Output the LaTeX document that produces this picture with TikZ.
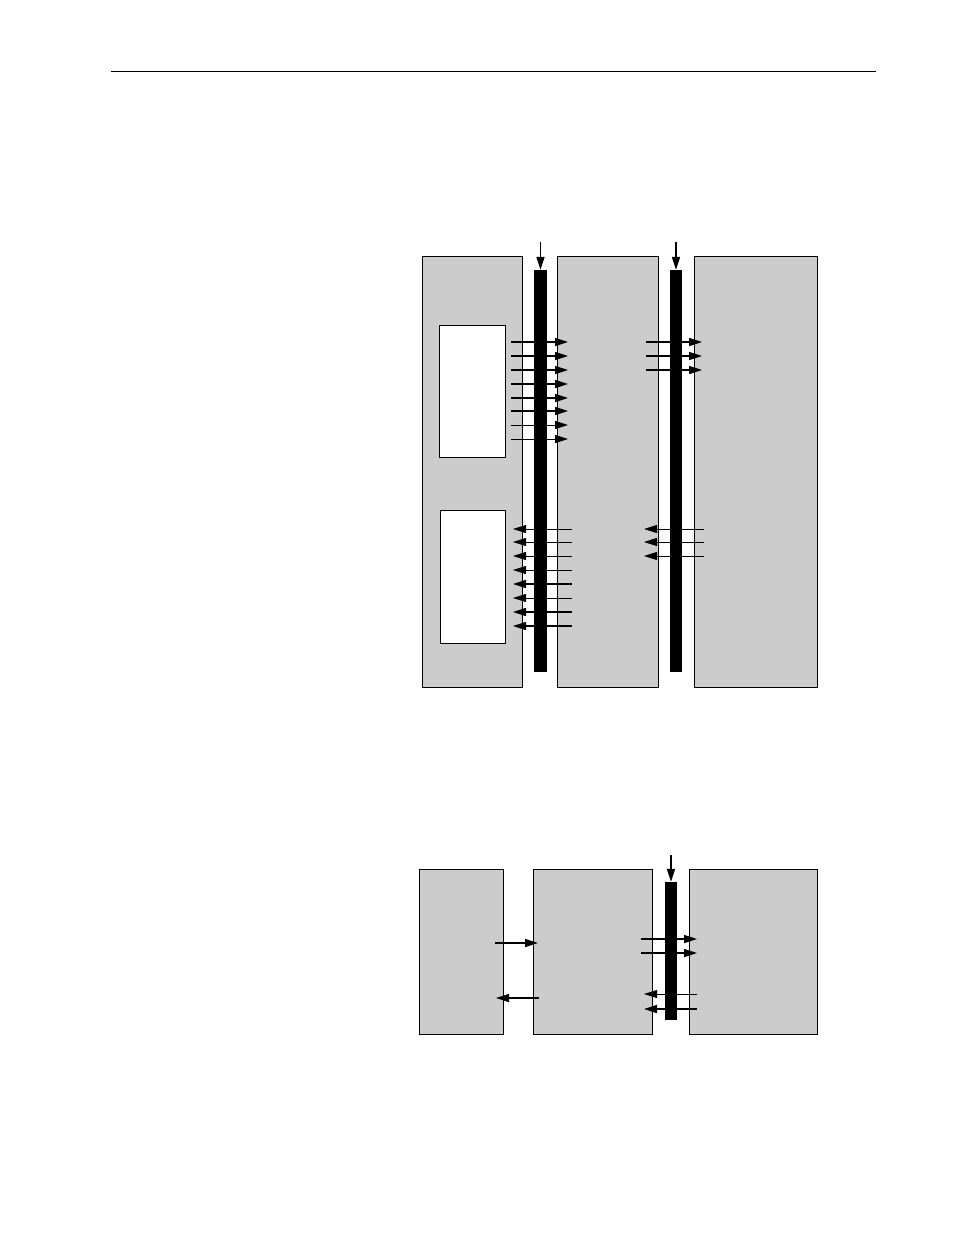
\documentclass[tikz,border=0pt]{standalone}
\usetikzlibrary{arrows.meta}
\begin{document}
\begin{tikzpicture}[x=1pt,y=-1pt,
        blk/.style={draw,fill=black!20,line width=0.8pt,inner sep=0pt},
        win/.style={draw,fill=white,line width=0.8pt,inner sep=0pt},
        bus/.style={fill=black,inner sep=0pt},
        sig/.style={-{Triangle[length=13pt,width=8pt]},line width=1.6pt},
        wire/.style={-{Triangle[length=13pt,width=8pt]},line width=0.8pt}]
            \useasboundingbox (0,0) rectangle (954,1235);
            \draw[line width=0.8pt] (111,71) -- (876,71);
            % upper picture
            \node[blk,minimum width=100pt,minimum height=431pt] (a) at (472,471.5) {};
            \node[blk,minimum width=101pt,minimum height=431pt] (b) at (607.5,471.5) {};
            \node[blk,minimum width=123pt,minimum height=431pt] (c) at (755.5,471.5) {};
            \node[win,minimum width=66pt,minimum height=132pt] (in1) at (472,391) {};
            \node[win,minimum width=65pt,minimum height=133pt] (in2) at (472.5,576.5) {};
            \node[bus,minimum width=13pt,minimum height=402pt] (bus1) at (540.5,471) {};
            \node[bus,minimum width=12pt,minimum height=402pt] (bus2) at (676,471) {};
            \coordinate (clk1) at (540.5,242);
            \coordinate (clk2) at (676,242);
            \draw[sig] (clk1) -- (bus1.north);
            \draw[sig] (clk2) -- (bus2.north);
            \draw[sig] (511,342) -- (568,342);
            \draw[sig] (511,356) -- (568,356);
            \draw[sig] (511,370) -- (568,370);
            \draw[sig] (511,384) -- (568,384);
            \draw[sig] (511,398) -- (568,398);
            \draw[sig] (511,411) -- (568,411);
            \draw[wire] (511,425) -- (568,425);
            \draw[wire] (511,439) -- (568,439);
            \draw[sig] (646,342) -- (702,342);
            \draw[sig] (646,356) -- (702,356);
            \draw[sig] (646,370) -- (702,370);
            \draw[wire] (572,529) -- (513,529);
            \draw[wire] (572,542) -- (513,542);
            \draw[wire] (572,556) -- (513,556);
            \draw[wire] (572,570) -- (513,570);
            \draw[sig] (572,584) -- (513,584);
            \draw[wire] (572,598) -- (513,598);
            \draw[sig] (572,612) -- (513,612);
            \draw[sig] (572,626) -- (513,626);
            \draw[wire] (704,529) -- (644,529);
            \draw[wire] (704,542) -- (644,542);
            \draw[wire] (704,556) -- (644,556);
            % lower picture
            \node[blk,minimum width=84pt,minimum height=165pt] (d) at (461.5,951.5) {};
            \node[blk,minimum width=119pt,minimum height=165pt] (e) at (593,951.5) {};
            \node[blk,minimum width=128pt,minimum height=165pt] (f) at (753.5,951.5) {};
            \node[bus,minimum width=12pt,minimum height=138pt] (bus3) at (671,951) {};
            \coordinate (clk3) at (671,855);
            \draw[sig] (clk3) -- (bus3.north);
            \draw[sig] (495,943) -- (538,943);
            \draw[sig] (539,998) -- (496,998);
            \draw[sig] (641,939) -- (697,939);
            \draw[sig] (641,953) -- (697,953);
            \draw[wire] (697,994) -- (644,994);
            \draw[sig] (697,1009) -- (644,1009);
\end{tikzpicture}
\end{document}
